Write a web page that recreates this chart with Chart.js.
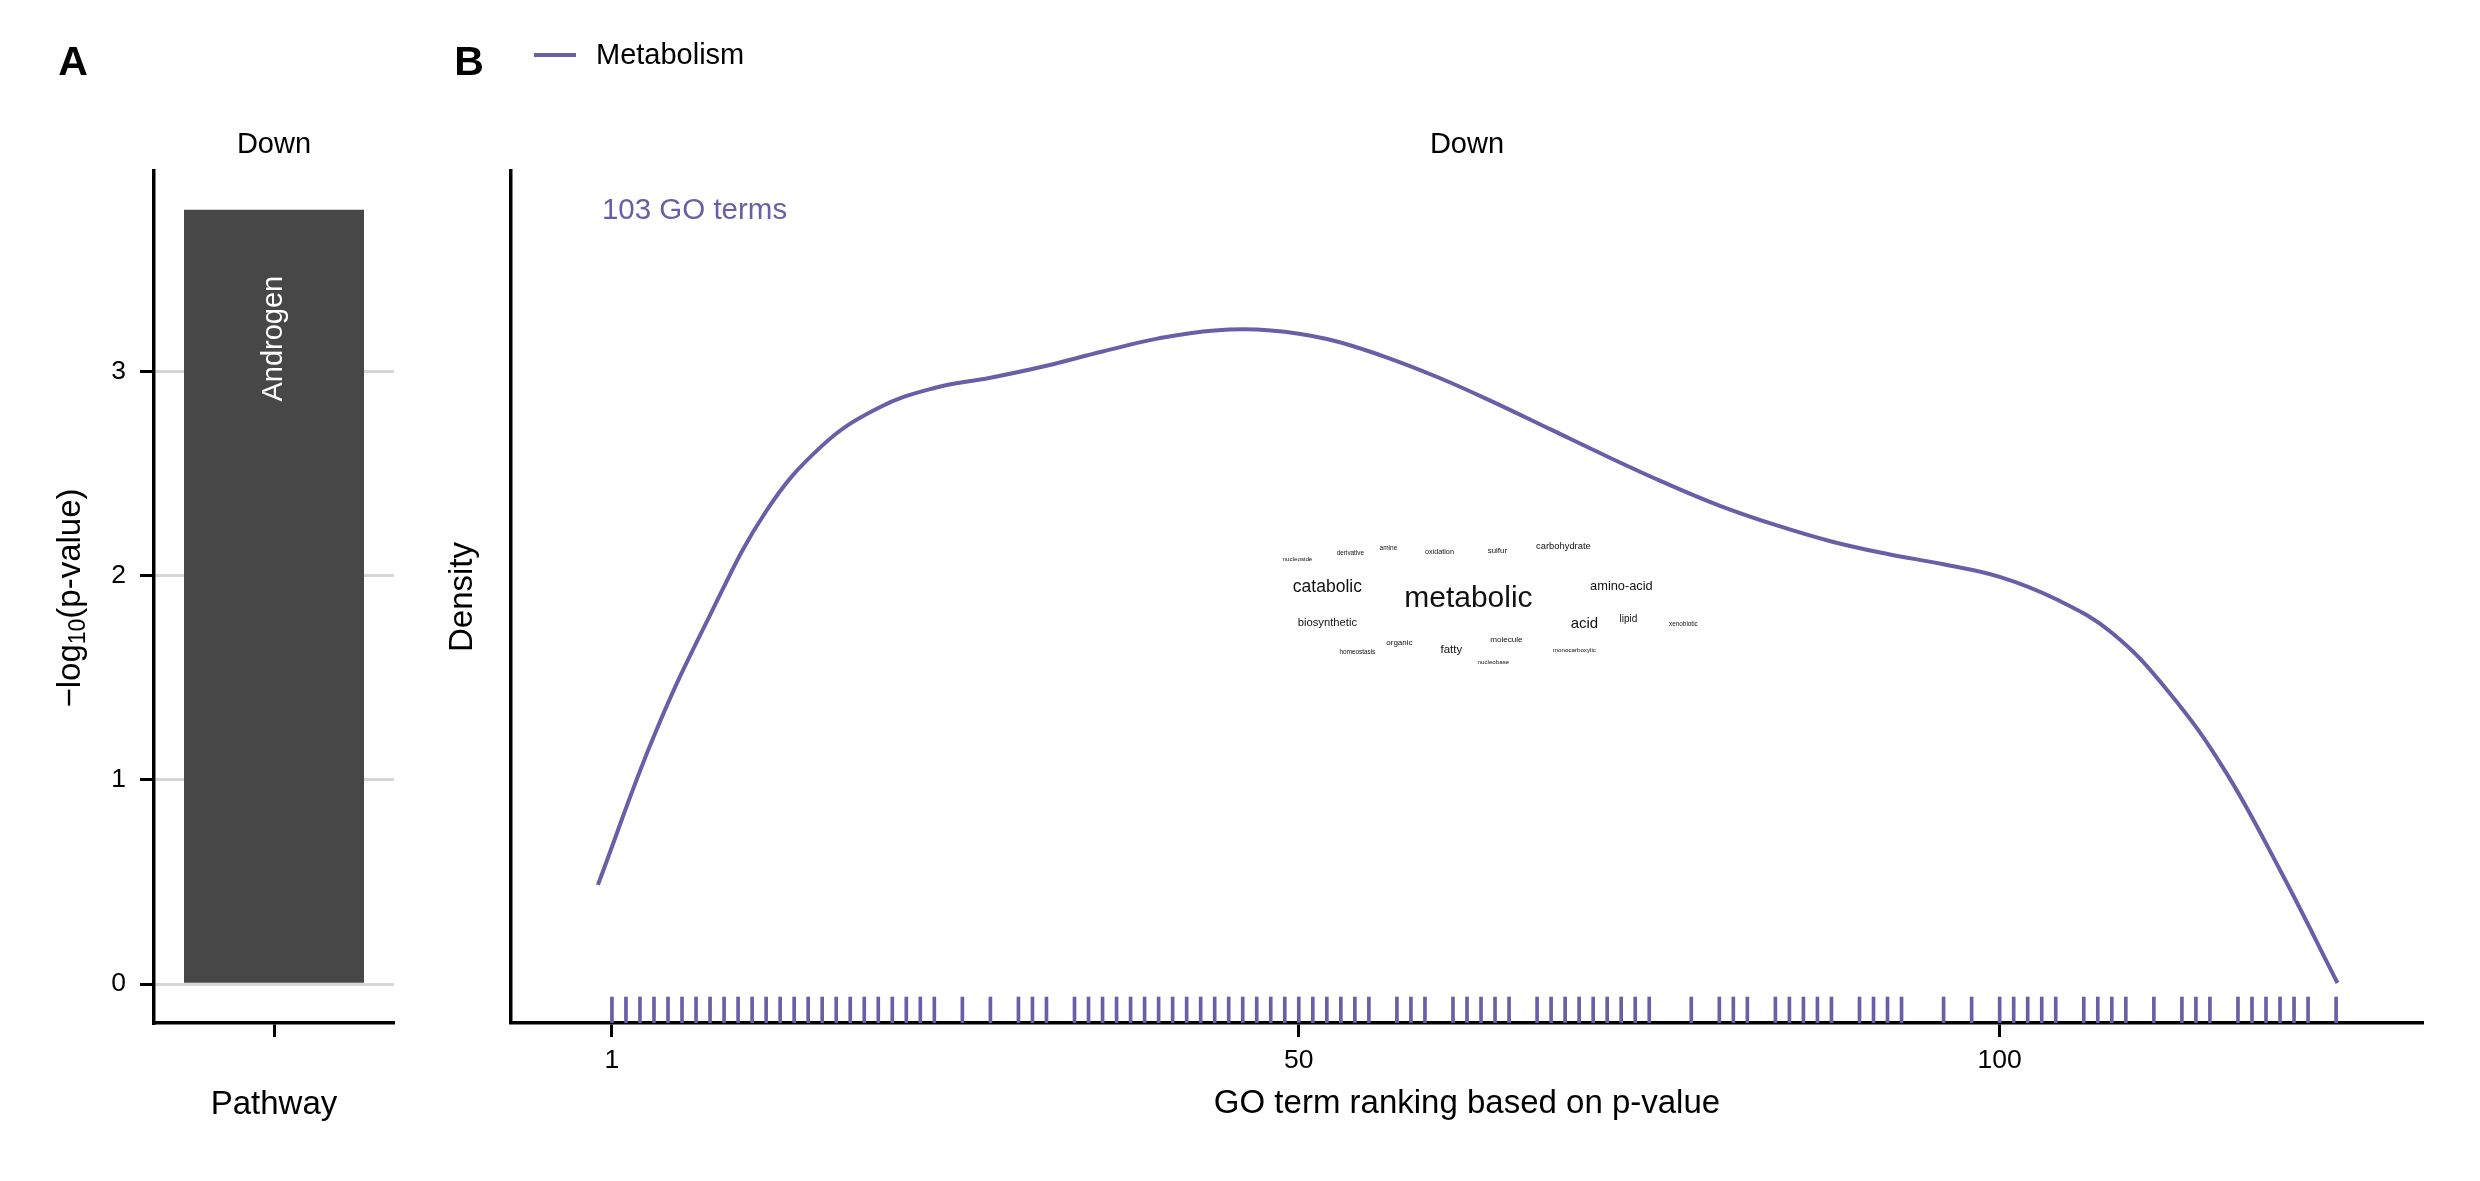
<!DOCTYPE html>
<html>
<head>
<meta charset="utf-8">
<script src="https://cdn.jsdelivr.net/npm/chart.js@4.4.1/dist/chart.umd.min.js"></script>
<style>
  body { margin: 0; background: #fff; }
  #wrap { position: relative; width: 2480px; height: 1181px; overflow: hidden; background: #fff; }
  canvas { position: absolute; top: 0; }
  #chartA { left: 0; }
  #chartB { left: 440px; }
</style>
</head>
<body>
<div id="wrap">
  <canvas id="chartA" width="440" height="1181"></canvas>
  <canvas id="chartB" width="2040" height="1181"></canvas>
</div>
<script>
// ---- panel A: pathway enrichment ----
const pathwayNames = ['Androgen'];
const pathwayLogP = [3.79];
const pathwayTicks = [0, 1, 2, 3];

// ---- panel B: GO term ranking ----
const seriesName = 'Metabolism';
const termCount = 103;
const rugRanks = [1, 2, 3, 4, 5, 6, 7, 8, 9, 10, 11, 12, 13, 14, 15, 16, 17, 18, 19, 20, 21, 22, 23, 24,
  26, 28, 30, 31, 32, 34, 35, 36, 37, 38, 39, 40, 41, 42, 43, 44, 45, 46, 47, 48, 49, 50, 51, 52, 53, 54, 55,
  57, 58, 59, 61, 62, 63, 64, 65, 67, 68, 69, 70, 71, 72, 73, 74, 75, 78, 80, 81, 82, 84, 85, 86, 87, 88,
  90, 91, 92, 93, 96, 98, 100, 101, 102, 103, 104, 106, 107, 108, 109, 111, 113, 114, 115,
  117, 118, 119, 120, 121, 122, 124];
// density curve
const densityRanks = [0, 4, 8, 12, 16, 20, 24, 28, 32, 36, 40, 44, 48, 52, 56, 60,
  64, 68, 72, 76, 80, 84, 88, 92, 96, 100, 104, 108, 112, 116, 120, 124.1];
const densityValues = [0.00172, 0.00433, 0.00645, 0.00827, 0.00942, 0.01008, 0.01043, 0.01061,
  0.01082, 0.01107, 0.01130, 0.01144, 0.01144, 0.01129, 0.01099, 0.01061, 0.01017, 0.00970,
  0.00923, 0.00878, 0.00837, 0.00803, 0.00774, 0.00752, 0.00734, 0.00712, 0.00673, 0.00614,
  0.00512, 0.00375, 0.00198, 0];
const densityTop = 0.013533; // y of the "GO terms" note
const rankTicks = [1, 50, 100];

// word cloud of GO term keywords
const cloudWords = ['metabolic', 'catabolic', 'acid', 'amino-acid', 'fatty', 'biosynthetic', 'lipid',
  'carbohydrate', 'molecule', 'organic', 'sulfur', 'oxidation', 'amine', 'derivative', 'nucleoside',
  'xenobiotic', 'homeostasis', 'monocarboxylic', 'nucleobase'];
const cloudFreq = [48, 28, 24, 20.5, 18.5, 18, 16, 15, 13, 12.8, 12.6, 11.6, 10.4, 10.2, 10, 10.2, 10.2, 9.9, 9.9];

// layout only
const purple = '#6a5ea6';
const fontFam = "'Liberation Sans', Arial, Helvetica, sans-serif";
const cloudCenter = { rank: 62.1, density: 0.00673 };
const cloudOffsets = [[0, 0], [-141, -12], [116, 25], [153, -13], [-17, 51], [-141, 24], [160, 20],
  [95, -53], [38, 41], [-69, 44], [29, -48], [-29, -47], [-80, -51], [-118, -46], [-171, -40],
  [215, 25], [-111, 53], [106, 51], [25, 63]];
const cloudPxPerFreq = 0.625;

Chart.defaults.font.family = fontFam;
Chart.defaults.color = '#000';

function txt(ctx, s, x, y, size, opt) {
  opt = opt || {};
  ctx.save();
  ctx.font = (opt.bold ? 'bold ' : '') + size + 'px ' + fontFam;
  ctx.fillStyle = opt.color || '#000';
  ctx.textAlign = opt.align || 'center';
  ctx.textBaseline = 'middle';
  ctx.translate(x, y);
  if (opt.rot) ctx.rotate(opt.rot);
  ctx.fillText(s, 0, 0);
  ctx.restore();
}

// ---------- panel A ----------
const decoA = {
  id: 'decoA',
  afterDatasetsDraw(chart) {
    const ctx = chart.ctx;
    const bar = chart.getDatasetMeta(0).data[0];
    txt(ctx, pathwayNames[0], bar.x, bar.y + 66, 29, { color: '#fff', align: 'right', rot: -Math.PI / 2 });
  },
  afterDraw(chart) {
    const ctx = chart.ctx;
    const a = chart.chartArea;
    txt(ctx, 'A', 73, 64, 41, { bold: true });
    txt(ctx, 'Down', (a.left + a.right) / 2, 145, 29);
    txt(ctx, 'Pathway', (a.left + a.right) / 2, 1105, 33);
    // y title with subscript
    ctx.save();
    ctx.translate(71, 598);
    ctx.rotate(-Math.PI / 2);
    ctx.textBaseline = 'middle';
    ctx.textAlign = 'left';
    ctx.fillStyle = '#000';
    const parts = [['\u2212log', 33, 0], ['10', 23, 8], ['(p-value)', 33, 0]];
    let w = 0;
    parts.forEach(p => { ctx.font = p[1] + 'px ' + fontFam; w += ctx.measureText(p[0]).width; });
    let x = -w / 2;
    parts.forEach(p => {
      ctx.font = p[1] + 'px ' + fontFam;
      ctx.fillText(p[0], x, p[2]);
      x += ctx.measureText(p[0]).width;
    });
    ctx.restore();
  }
};

new Chart(document.getElementById('chartA').getContext('2d'), {
  type: 'bar',
  data: {
    labels: pathwayNames,
    datasets: [{
      label: 'Down',
      data: pathwayLogP,
      backgroundColor: '#474747',
      categoryPercentage: 1,
      barPercentage: 0.75
    }]
  },
  options: {
    responsive: false,
    devicePixelRatio: 1,
    animation: false,
    events: [],
    layout: { padding: { left: 0, right: 46, top: 171, bottom: 0 } },
    plugins: { legend: { display: false }, tooltip: { enabled: false } },
    scales: {
      x: {
        grid: { display: true, drawOnChartArea: false, offset: false, tickLength: 14, tickColor: '#000', tickWidth: 3 },
        border: { display: true, color: '#000', width: 3.5 },
        ticks: { callback: () => '' },
        afterFit: s => { s.height = 158; }
      },
      y: {
        min: -0.19,
        max: 3.98,
        afterBuildTicks: s => { s.ticks = pathwayTicks.map(v => ({ value: v })); },
        grid: { color: '#d6d6d6', lineWidth: 3, tickLength: 14, tickColor: '#000', tickWidth: 3 },
        border: { display: true, color: '#000', width: 3.5 },
        ticks: { font: { size: 26.5 }, color: '#000', padding: 14 },
        afterFit: s => { s.width = 154; }
      }
    }
  },
  plugins: [decoA]
});

// ---------- panel B ----------
const decoB = {
  id: 'decoB',
  afterDatasetsDraw(chart) {
    const ctx = chart.ctx;
    const xs = chart.scales.x, ys = chart.scales.y;
    txt(ctx, termCount + ' GO terms', xs.getPixelForValue(0) + 4, ys.getPixelForValue(densityTop), 29.5,
      { color: purple, align: 'left' });
    const cx = xs.getPixelForValue(cloudCenter.rank);
    const cy = ys.getPixelForValue(cloudCenter.density);
    cloudWords.forEach((w, i) => {
      txt(ctx, w, cx + cloudOffsets[i][0], cy + cloudOffsets[i][1], cloudFreq[i] * cloudPxPerFreq, { color: '#111' });
    });
  },
  afterDraw(chart) {
    const ctx = chart.ctx;
    const a = chart.chartArea;
    const mid = (a.left + a.right) / 2;
    txt(ctx, 'B', 29, 64, 41, { bold: true });
    ctx.save();
    ctx.strokeStyle = purple;
    ctx.lineWidth = 4;
    ctx.beginPath();
    ctx.moveTo(94, 55);
    ctx.lineTo(136, 55);
    ctx.stroke();
    ctx.restore();
    txt(ctx, chart.data.datasets[0].label, 156, 56, 29, { align: 'left' });
    txt(ctx, 'Down', mid, 145, 29);
    txt(ctx, 'GO term ranking based on p-value', mid, 1104, 33);
    txt(ctx, 'Density', 23, 597, 33, { rot: -Math.PI / 2 });
  }
};

new Chart(document.getElementById('chartB').getContext('2d'), {
  type: 'line',
  data: {
    datasets: [
      {
        type: 'line',
        label: seriesName,
        data: densityRanks.map((r, i) => ({ x: r, y: densityValues[i] })),
        borderColor: purple,
        borderWidth: 4,
        pointRadius: 0,
        fill: false,
        tension: 0.4,
        yAxisID: 'y'
      },
      {
        type: 'bar',
        label: 'rug',
        data: rugRanks.map(r => ({ x: r, y: 1 })),
        backgroundColor: purple,
        barThickness: 3,
        yAxisID: 'yRug'
      }
    ]
  },
  options: {
    responsive: false,
    devicePixelRatio: 1,
    animation: false,
    events: [],
    layout: { padding: { left: 0, right: 57, top: 171, bottom: 0 } },
    plugins: { legend: { display: false }, tooltip: { enabled: false } },
    scales: {
      x: {
        type: 'linear',
        min: -6.2,
        max: 130.2,
        offset: false,
        afterBuildTicks: s => { s.ticks = rankTicks.map(v => ({ value: v })); },
        grid: { display: true, drawOnChartArea: false, offset: false, tickLength: 14, tickColor: '#000', tickWidth: 3 },
        border: { display: true, color: '#000', width: 3.5 },
        ticks: { font: { size: 26.5 }, color: '#000', padding: 8, maxRotation: 0 },
        afterFit: s => { s.height = 158; }
      },
      y: {
        min: -0.000701,
        max: 0.014234,
        grid: { display: false },
        border: { display: true, color: '#000', width: 3.5 },
        ticks: { display: false },
        afterFit: s => { s.width = 71; }
      },
      yRug: {
        display: false,
        min: 0,
        max: 32.8
      }
    }
  },
  plugins: [decoB]
});
</script>
</body>
</html>
